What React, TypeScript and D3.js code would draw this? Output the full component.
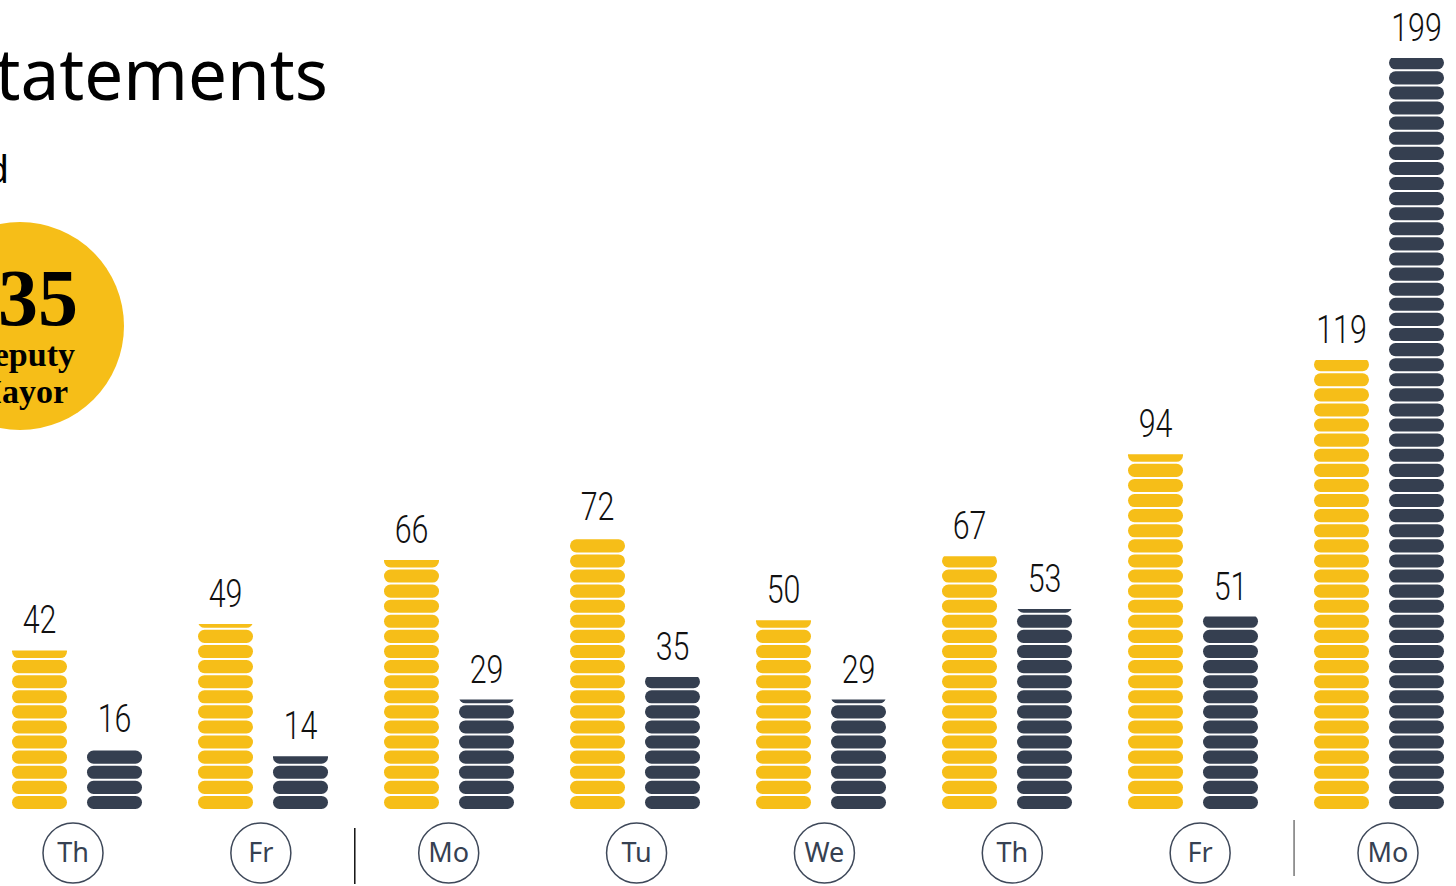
import React from "react";
import * as d3 from "d3";

const days = ["Th", "Fr", "Mo", "Tu", "We", "Th", "Fr", "Mo"];
const mayorValues = [42, 49, 66, 72, 50, 67, 94, 119];
const deputyValues = [16, 14, 29, 35, 29, 53, 51, 199];
const separatorsAfter = [1, 6];

const W = 1456;
const H = 886;
const YELLOW = "#F6BE18";
const DARK = "#353F50";
const UNIT = 4;

export default function App() {
  const idx = days.map((_, i) => i);
  const xBar = d3.scalePoint<number>().domain(idx).range([77, 1379]);
  const xCircle = d3.scalePoint<number>().domain(idx).range([73, 1388]);
  const y = d3.scaleLinear().domain([0, 199]).range([809, 58]);
  const barW = 55;
  const innerGap = 10;
  const pillGap = 2;

  const renderBar = (v: number, x0: number, color: string, key: string) => {
    const n = Math.ceil(v / UNIT);
    const top = y(v);
    const pills = d3.range(n).map((k) => {
      const yt = y((k + 1) * UNIT) + pillGap;
      const yb = y(k * UNIT);
      return (
        <rect
          key={k}
          x={x0}
          y={yt}
          width={barW}
          height={yb - yt}
          rx={6.5}
          ry={6.5}
          fill={color}
        />
      );
    });
    return (
      <g key={key}>
        <clipPath id={`clip-${key}`}>
          <rect x={x0 - 1} y={top} width={barW + 2} height={y(0) - top + 1} />
        </clipPath>
        <g clipPath={`url(#clip-${key})`}>{pills}</g>
        <text
          transform={`translate(${x0 + barW / 2},${top - 17}) scale(0.8,1)`}
          textAnchor="middle"
          fontFamily="Roboto"
          fontWeight={300}
          fontSize={38}
          fill="#111"
        >
          {v}
        </text>
      </g>
    );
  };

  return (
    <svg
      width={W}
      height={H}
      style={{ position: "absolute", left: 0, top: 0, background: "#fff" }}
    >
      <text
        transform="translate(328,100) scale(0.975,1)"
        textAnchor="end"
        fontFamily="Noto Sans"
        fontWeight={400}
        fontSize={71}
        fill="#000"
      >
        Statements
      </text>
      <text
        x={9}
        y={183}
        textAnchor="end"
        fontFamily="Noto Sans"
        fontSize={38}
        fill="#000"
      >
        Number of statements issued
      </text>

      <circle cx={20} cy={326} r={104} fill={YELLOW} />
      <text
        x={78}
        y={325}
        textAnchor="end"
        fontFamily="Liberation Serif"
        fontWeight={700}
        fontSize={80}
        fill="#000"
      >
        135
      </text>
      <text
        x={75}
        y={366}
        textAnchor="end"
        fontFamily="Liberation Serif"
        fontWeight={700}
        fontSize={34}
        fill="#000"
      >
        Deputy
      </text>
      <text
        x={68}
        y={403}
        textAnchor="end"
        fontFamily="Liberation Serif"
        fontWeight={700}
        fontSize={34}
        fill="#000"
      >
        Mayor
      </text>

      {idx.map((i) => {
        const c = xBar(i)!;
        return (
          <g key={i}>
            {renderBar(mayorValues[i], c - innerGap - barW, YELLOW, `m${i}`)}
            {renderBar(deputyValues[i], c + innerGap, DARK, `d${i}`)}
          </g>
        );
      })}

      {idx.map((i) => {
        const cx = xCircle(i)!;
        return (
          <g key={`c${i}`}>
            <circle
              cx={cx}
              cy={853}
              r={30}
              fill="none"
              stroke="#3E4859"
              strokeWidth={1.5}
            />
            <text
              x={cx}
              y={862}
              textAnchor="middle"
              fontFamily="Noto Sans"
              fontSize={27}
              fill="#364152"
            >
              {days[i]}
            </text>
          </g>
        );
      })}

      {separatorsAfter.map((i, k) => {
        const sx = (xCircle(i)! + xCircle(i + 1)!) / 2;
        const y0 = k === 0 ? 828 : 820;
        return (
          <line
            key={`s${i}`}
            x1={sx}
            x2={sx}
            y1={y0}
            y2={y0 + 56}
            stroke={k === 0 ? "#111" : "#777"}
            strokeWidth={1.5}
          />
        );
      })}
    </svg>
  );
}
